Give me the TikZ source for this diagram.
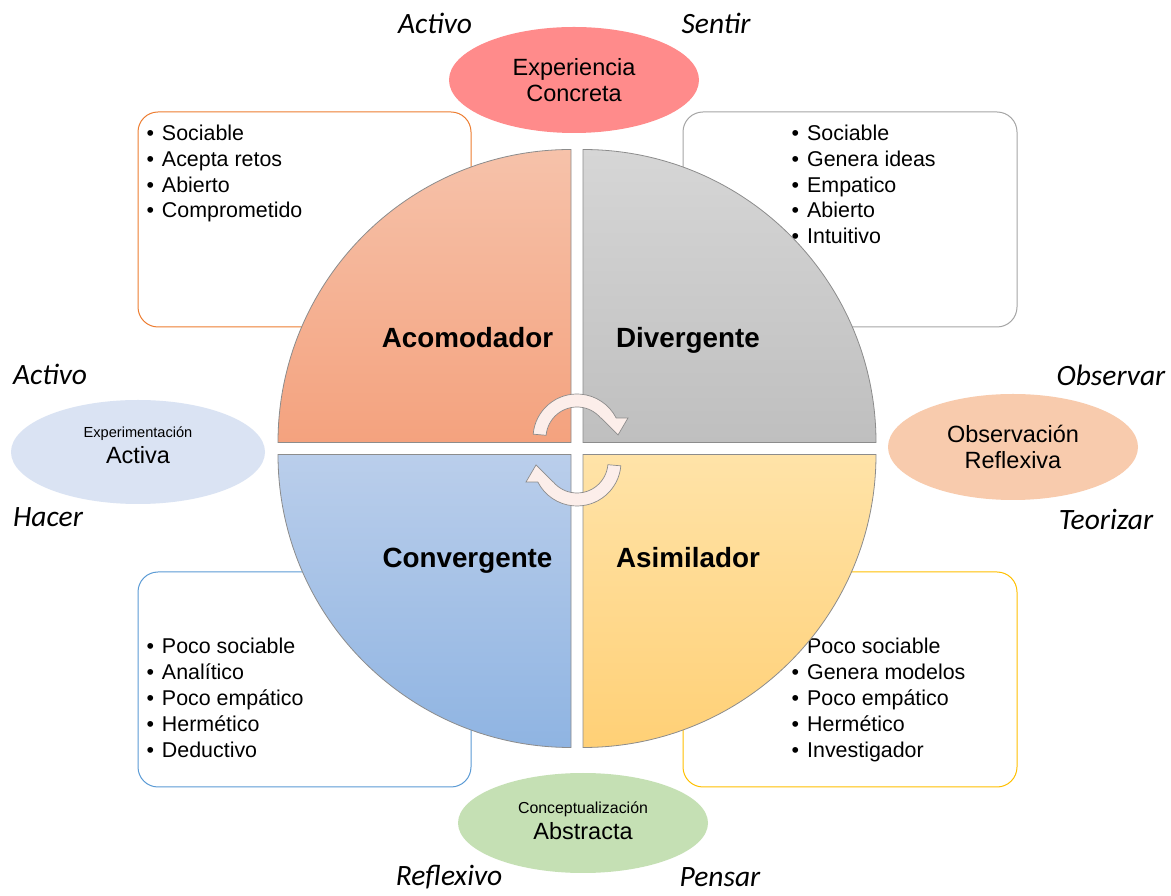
\documentclass[tikz,border=0pt]{standalone}
\usepackage{fontspec}
\setmainfont{Liberation Sans}
\newfontfamily\calibri{Carlito}
\usetikzlibrary{shapes.geometric}

\definecolor{orangeline}{RGB}{237,125,49}
\definecolor{grayline}{RGB}{165,165,165}
\definecolor{blueline}{RGB}{91,155,213}
\definecolor{yellowline}{RGB}{255,192,0}
\definecolor{ecfill}{RGB}{255,139,139}
\definecolor{eafill}{RGB}{218,227,243}
\definecolor{orfill}{RGB}{248,203,173}
\definecolor{cafill}{RGB}{197,224,180}
\definecolor{acomtop}{RGB}{246,194,170}
\definecolor{acombot}{RGB}{244,162,126}
\definecolor{divtop}{RGB}{214,214,214}
\definecolor{divbot}{RGB}{191,191,191}
\definecolor{convtop}{RGB}{186,206,235}
\definecolor{convbot}{RGB}{143,180,226}
\definecolor{asimtop}{RGB}{255,227,168}
\definecolor{asimbot}{RGB}{255,208,118}
\definecolor{girofill}{RGB}{252,238,234}

\newcommand{\vineta}{\makebox[15.5pt][l]{•}}

\tikzset{
  listbox/.style={rounded corners=20, line width=1, fill=white},
  item/.style={anchor=base west, inner sep=0, font=\fontsize{21.4}{25.8}\selectfont},
  modo/.style={ellipse, minimum width=250, minimum height=106, inner sep=0, align=center,
    font=\fontsize{23.5}{26.5}\selectfont},
  verbo/.style={font=\calibri\itshape\fontsize{29.5}{32}\selectfont},
  estilo/.style={anchor=base, font=\bfseries\fontsize{27.8}{30}\selectfont},
  cuarto/.style={draw=black!45, line width=0.8},
  giro/.pic={
    \draw[draw=black!45, line width=0.7, fill=girofill]
      (175:44) arc[start angle=175, end angle=27, radius=44] -- (51,20) -- (41,3) -- (24,20)
      -- (40:31) arc[start angle=40, end angle=175, radius=31] -- cycle;
  }
}

\begin{document}
\begin{tikzpicture}[x=1pt, y=1pt]
\fill[white] (0,0) rectangle (1171,895);
\useasboundingbox (0,0) rectangle (1171,895);

% cuadros de rasgos
\draw[listbox, draw=orangeline] (138,568) rectangle (471,783);
\draw[listbox, draw=grayline] (683,568) rectangle (1017,783);
\draw[listbox, draw=blueline] (138,108) rectangle (471,323);
\draw[listbox, draw=yellowline] (683,108) rectangle (1017,323);

\foreach \t [count=\i] in {Sociable, Acepta retos, Abierto, Comprometido}
  \node[item] (acom-\i) at (146.3, {754.5-25.8*(\i-1)}) {\vineta\t};
\foreach \t [count=\i] in {Sociable, Genera ideas, Empatico, Abierto, Intuitivo}
  \node[item] (div-\i) at (791.5, {754.5-25.8*(\i-1)}) {\vineta\t};
\foreach \t [count=\i] in {Poco sociable, Analítico, Poco empático, Hermético, Deductivo}
  \node[item] (conv-\i) at (146.3, {241-25.8*(\i-1)}) {\vineta\t};
\foreach \t [count=\i] in {Poco sociable, Genera modelos, Poco empático, Hermético, Investigador}
  \node[item] (asim-\i) at (791.5, {241-25.8*(\i-1)}) {\vineta\t};

% cuadrantes
\draw[cuarto, top color=acomtop, bottom color=acombot]
  (571,452.5) -- (278,452.5) arc[start angle=180, end angle=90, radius=293] -- cycle;
\draw[cuarto, top color=divtop, bottom color=divbot]
  (583,452.5) -- (583,745.5) arc[start angle=90, end angle=0, radius=293] -- cycle;
\draw[cuarto, top color=asimtop, bottom color=asimbot]
  (583,440.5) -- (876,440.5) arc[start angle=0, end angle=-90, radius=293] -- cycle;
\draw[cuarto, top color=convtop, bottom color=convbot]
  (571,440.5) -- (571,147.5) arc[start angle=270, end angle=180, radius=293] -- cycle;

\node[estilo] (acom) at (467.5,547) {Acomodador};
\node[estilo] (div) at (688,547) {Divergente};
\node[estilo] (conv) at (467.5,327) {Convergente};
\node[estilo] (asim) at (688,327) {Asimilador};

% flechas del ciclo
\pic (giro1) at (577,457) {giro};
\pic[rotate=180] (giro2) at (577,433) {giro};

% modos de aprender
\node[modo, fill=ecfill] (ec) at (574,815) {Experiencia\\Concreta};
\node[modo, fill=orfill] (or) at (1013,448) {Observación\\Reflexiva};
\node[modo, fill=eafill, minimum width=254, minimum height=104, text depth=14pt] (ea) at (138,443)
  {{\fontsize{14.6}{17}\selectfont Experimentación}\\Activa};
\node[modo, fill=cafill, minimum height=100, text depth=5pt] (ca) at (583,72)
  {{\fontsize{15.9}{17}\selectfont Conceptualización}\\Abstracta};

% verbos
\node[verbo] (v1) at (435,872) {Activo};
\node[verbo] (v2) at (716,872) {Sentir};
\node[verbo] (v3) at (50,521) {Activo};
\node[verbo] (v4) at (48,378) {Hacer};
\node[verbo] (v5) at (1111,520) {Observar};
\node[verbo] (v6) at (1106,376) {Teorizar};
\node[verbo] (v7) at (449,18) {Reflexivo};
\node[verbo] (v8) at (720,18) {Pensar};
\end{tikzpicture}
\end{document}
